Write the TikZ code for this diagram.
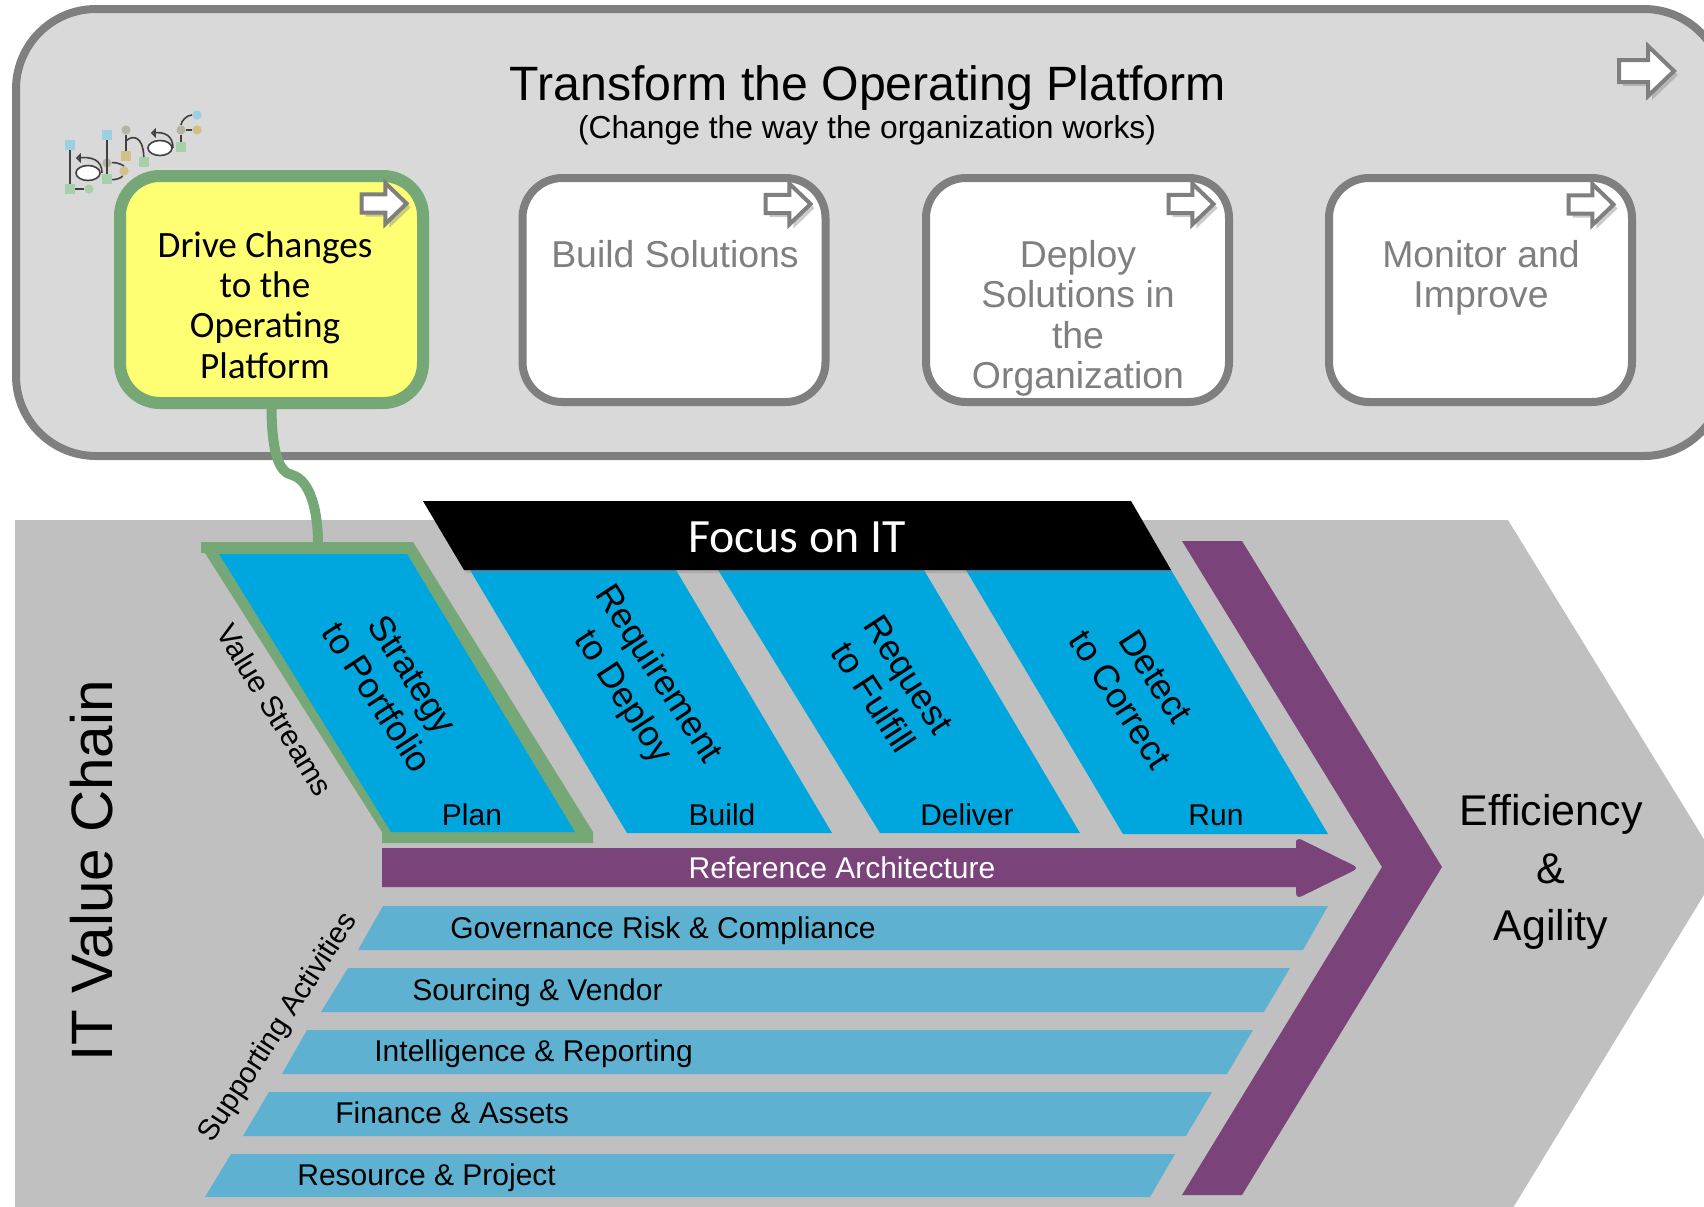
\documentclass[tikz,border=0pt]{standalone}
\usepackage{fontspec}
\usepackage{xcolor}
\usetikzlibrary{shadows}
\setmainfont{Liberation Sans}
\newfontfamily\cali{Carlito}

\definecolor{panelgray}{HTML}{D9D9D9}
\definecolor{edgegray}{HTML}{7F7F7F}
\definecolor{chainGray}{HTML}{C0C0C0}
\definecolor{driveYellow}{HTML}{FFFF73}
\definecolor{driveGreen}{HTML}{76A877}
\definecolor{streamBlue}{HTML}{00A6DE}
\definecolor{supportBlue}{HTML}{5EB1D0}
\definecolor{archPurple}{HTML}{7A4379}
\definecolor{logoBlue}{HTML}{9CCFE0}
\definecolor{logoGreen}{HTML}{A9CFAA}
\definecolor{logoTan}{HTML}{D2C088}
\definecolor{logoGray}{HTML}{B4B4A2}

\tikzset{
  panel/.style={draw=edgegray, fill=panelgray, line width=4pt, rounded corners=40pt, minimum width=854pt, minimum height=223.5pt, inner sep=0pt},
  stagebox/.style={draw=edgegray, fill=white, line width=4pt, rounded corners=20pt, minimum width=151.5pt, minimum height=112pt, inner sep=0pt},
  drivebox/.style={draw=driveGreen, fill=driveYellow, line width=6pt, rounded corners=20pt, minimum width=151.5pt, minimum height=113.5pt, inner sep=0pt},
  stagetext/.style={text=edgegray, font=\fontsize{18.7}{20.2}\selectfont, align=center, anchor=north, inner sep=0pt},
  drivetext/.style={font=\cali\fontsize{18.6}{20.2}\selectfont, align=center, inner sep=0pt},
  streamtext/.style={font=\fontsize{17.8}{21}\selectfont, align=center, rotate=-57, inner sep=0pt},
  phasetext/.style={font=\fontsize{15}{17}\selectfont, text height=11pt, text depth=3pt, inner sep=0pt},
  supporttext/.style={font=\fontsize{15}{17}\selectfont, text height=11pt, text depth=3pt, anchor=west, inner sep=0pt},
  nextarrow/.pic={
    \draw[draw=edgegray, fill=white, line width=2pt, miter limit=4,
      drop shadow={shadow xshift=2pt, shadow yshift=-2pt, opacity=.4}]
      (0,-11) -- (29,-11) -- (29,-25) -- (55,0) -- (29,25) -- (29,11) -- (0,11) -- cycle;
  },
  logosquare/.style={draw=none, rectangle, minimum size=4.6pt, inner sep=0pt},
  logodot/.style={draw=none, circle, minimum size=4.6pt, inner sep=0pt},
  logoline/.style={draw=black!75, line width=0.8pt},
}

\begin{document}
\begin{tikzpicture}[x=0.5pt, y=-0.5pt]
\useasboundingbox (0,0) rectangle (1704,1206);
\clip (0,0) rectangle (1704,1206);

% upper panel
\node[panel] (platform) at (870,232.5) {};
\node[font=\fontsize{24.1}{26}\selectfont, inner sep=0pt] (platformtitle) at (868,88) {Transform the Operating Platform};
\node[font=\fontsize{15.9}{18}\selectfont, inner sep=0pt] (platformsub) at (867,130) {(Change the way the organization works)};
\pic at (1619,71) {nextarrow};

% logo
\node[logosquare, fill=logoBlue] (la) at (70,145) {};
\node[logosquare, fill=logoGreen] (lb) at (70,189) {};
\node[logodot, fill=logoGreen] (lc) at (89,189) {};
\node[logosquare, fill=logoBlue] (ld) at (107,135) {};
\node[logosquare, fill=logoGreen] (le) at (107,179) {};
\node[logodot, fill=logoGray] (lf) at (107,163) {};
\node[logodot, fill=logoTan] (lg) at (124,171) {};
\node[logodot, fill=logoGray] (lh) at (126,130) {};
\node[logosquare, fill=logoTan] (li) at (126,156) {};
\node[logosquare, fill=logoGreen] (lj) at (144,162) {};
\node[logodot, fill=logoBlue] (lk) at (197,115) {};
\node[logodot, fill=logoGray] (ll) at (181,130) {};
\node[logodot, fill=logoTan] (lm) at (197,130) {};
\node[logosquare, fill=logoGreen] (ln) at (181,147) {};
\draw[logoline] (la) -- (lb) -- (lc);
\draw[logoline] (ld) -- (le);
\draw[logoline] (lf) .. controls (118,162) and (124,166) .. (lg);
\draw[logoline] (lg) .. controls (122,178) and (115,180) .. (le);
\draw[logoline] (lh) -- (li);
\draw[logoline] (126,141) .. controls (132,135) and (143,135) .. (lj);
\draw[logoline] (ll) -- (lm);
\draw[logoline] (ll) -- (ln);
\draw[logoline] (ll) .. controls (181,121) and (187,115) .. (lk);
\draw[logoline, fill=white] (88,173) ellipse (12 and 7.5);
\draw[logoline] (77,158) .. controls (92,156) and (102,160) .. (102,173);
\draw[logoline, fill=logoGreen] (80,155) -- (77,158) -- (80,161) -- cycle;
\draw[logoline, fill=white] (160,148) ellipse (12 and 7.5);
\draw[logoline] (152,133) .. controls (165,131) and (173,136) .. (173,148);
\draw[logoline, fill=logoGreen] (155,130) -- (152,133) -- (155,136) -- cycle;

% stages
\node[stagebox] (build) at (674,290) {};
\node[stagebox] (deploy) at (1077.5,290) {};
\node[stagebox] (monitor) at (1480.5,290) {};
\node[stagetext] (buildtext) at (675,240) {Build Solutions};
\node[stagetext] (deploytext) at (1078,240) {Deploy\\Solutions in\\the\\Organization};
\node[stagetext] (monitortext) at (1481,240) {Monitor and\\Improve};
\pic[scale=.82] at (765.5,204) {nextarrow};
\pic[scale=.82] at (1168.5,204) {nextarrow};
\pic[scale=.82] at (1568.5,204.5) {nextarrow};

% lower chevron
\fill[chainGray] (15,520) -- (1508,520) -- (1721,867) -- (1508,1216) -- (15,1216) -- cycle;
\coordinate (planedge) at (318,544);

% value streams
\fill[driveGreen] (201,542) -- (413,542) -- (593,832) -- (593,843) -- (382,843) -- (382,832) -- (205,553) -- (201,553) -- cycle;
\fill[streamBlue] (219,554) -- (407,554) -- (575,832) -- (391,832) -- cycle;
\fill[streamBlue] (464,560) -- (670,560) -- (832,833) -- (627,833) -- cycle;
\fill[streamBlue] (712,560) -- (918,560) -- (1080,833) -- (880,833) -- cycle;
\fill[streamBlue] (960,560) -- (1165,560) -- (1328,834) -- (1123,834) -- cycle;
\fill[black, drop shadow={shadow xshift=1pt, shadow yshift=-1.5pt, opacity=.3}] (423,501) -- (1131,501) -- (1171,570) -- (464,570) -- cycle;

\node[font=\cali\fontsize{23.9}{26}\selectfont, text=white, inner sep=0pt] (focus) at (797,537) {Focus on IT};
\node[streamtext] (strategy) at (395,686) {Strategy\\to Portfolio};
\node[streamtext] (requirement) at (640,686) {Requirement\\to Deploy};
\node[streamtext] (request) at (891,686) {Request\\to Fulfill};
\node[streamtext] (detect) at (1138,688) {Detect\\to Correct};
\node[phasetext] (plan) at (472,817) {Plan};
\node[phasetext] (buildphase) at (722,817) {Build};
\node[phasetext] (deliver) at (967,817) {Deliver};
\node[phasetext] (run) at (1216,817) {Run};
\node[font=\fontsize{15}{18}\selectfont, rotate=-58.5, inner sep=0pt] (streams) at (275,710) {Value Streams};
\node[font=\fontsize{14.7}{18}\selectfont, rotate=57, inner sep=0pt] (activities) at (279,1028) {Supporting Activities};
\node[font=\fontsize{29.2}{32}\selectfont, rotate=90, inner sep=0pt] (chain) at (92,871) {IT Value Chain};

% reference architecture
\fill[archPurple] (1182,541) -- (1242,541) -- (1442,867) -- (1242,1195) -- (1182,1195) -- (1382,867) -- cycle;
\fill[archPurple] (382,848) -- (1296,848) -- (1296,840) [rounded corners=3pt] -- (1296,837) -- (1359,868) -- (1296,899) [sharp corners] -- (1296,887) -- (382,887) -- cycle;
\node[phasetext, text=white] (reference) at (842,870) {Reference Architecture};

% supporting activities
\fill[supportBlue] (383,906) -- (1328,906) -- (1303,950) -- (358,950) -- cycle;
\fill[supportBlue] (348,968) -- (1290,968) -- (1264,1012) -- (321,1012) -- cycle;
\fill[supportBlue] (307,1030) -- (1253,1030) -- (1227,1074) -- (282,1074) -- cycle;
\fill[supportBlue] (269,1092) -- (1212,1092) -- (1186,1136) -- (243,1136) -- cycle;
\fill[supportBlue] (231,1154) -- (1175,1154) -- (1150,1197) -- (205,1197) -- cycle;
\node[supporttext] (governance) at (450,930) {Governance Risk \& Compliance};
\node[supporttext] (sourcing) at (412,992) {Sourcing \& Vendor};
\node[supporttext] (intelligence) at (374,1053) {Intelligence \& Reporting};
\node[supporttext] (finance) at (335,1115) {Finance \& Assets};
\node[supporttext] (resource) at (297,1177) {Resource \& Project};

\node[font=\fontsize{21.5}{28.7}\selectfont, align=center, inner sep=0pt] (outcome) at (1551,872) {Efficiency\\\&\\Agility};

% selected stage
\node[drivebox] (drive) at (271.5,289.5) {};
\draw[driveGreen, line width=5pt] (drive.south) .. controls (272,450) and (278,472) .. (292,475) .. controls (310,480) and (318,510) .. (planedge);
\node[drivetext] (drivetext) at (265,305) {Drive Changes\\to the\\Operating\\Platform};
\pic[scale=.82] at (361.5,203.5) {nextarrow};
\end{tikzpicture}
\end{document}
